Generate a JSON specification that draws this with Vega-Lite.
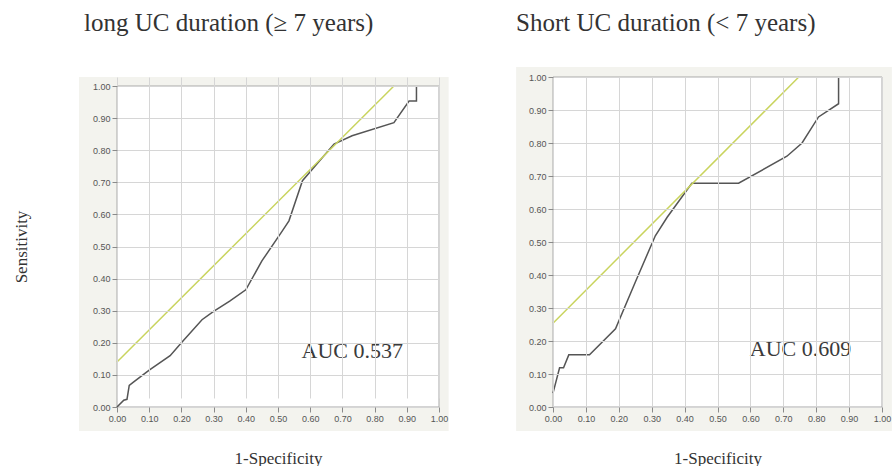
{
  "$schema": "https://vega.github.io/schema/vega-lite/v6.json",
  "padding": {"left": 12, "top": 11, "right": 0, "bottom": 0},
  "background": "white",
  "config": {
    "view": {"stroke": null},
    "axis": {
      "grid": true, "gridColor": "#d6d6d6", "domain": false,
      "tickColor": "#8a8a8a", "tickSize": 5,
      "labelFont": "Liberation Sans", "labelFontSize": 9, "labelColor": "#555555",
      "labelOverlap": false, "labelFlush": false,
      "titleFont": "Liberation Serif", "titleFontWeight": "normal", "titleFontSize": 17, "titleColor": "#333333"
    },
    "title": {"font": "Liberation Serif", "fontSize": 25, "fontWeight": "normal", "color": "#333333", "anchor": "start", "frame": "group"},
    "concat": {"spacing": 67}
  },
  "datasets": {
    "long": [
      {"i": 0, "fpr": 0, "tpr": 0, "series": "ROC"},
      {"i": 1, "fpr": 0.021, "tpr": 0.021, "series": "ROC"},
      {"i": 2, "fpr": 0.031, "tpr": 0.024, "series": "ROC"},
      {"i": 3, "fpr": 0.038, "tpr": 0.067, "series": "ROC"},
      {"i": 4, "fpr": 0.052, "tpr": 0.078, "series": "ROC"},
      {"i": 5, "fpr": 0.10, "tpr": 0.115, "series": "ROC"},
      {"i": 6, "fpr": 0.165, "tpr": 0.16, "series": "ROC"},
      {"i": 7, "fpr": 0.20, "tpr": 0.2, "series": "ROC"},
      {"i": 8, "fpr": 0.264, "tpr": 0.272, "series": "ROC"},
      {"i": 9, "fpr": 0.30, "tpr": 0.298, "series": "ROC"},
      {"i": 10, "fpr": 0.35, "tpr": 0.33, "series": "ROC"},
      {"i": 11, "fpr": 0.40, "tpr": 0.365, "series": "ROC"},
      {"i": 12, "fpr": 0.45, "tpr": 0.455, "series": "ROC"},
      {"i": 13, "fpr": 0.513, "tpr": 0.548, "series": "ROC"},
      {"i": 14, "fpr": 0.534, "tpr": 0.58, "series": "ROC"},
      {"i": 15, "fpr": 0.576, "tpr": 0.705, "series": "ROC"},
      {"i": 16, "fpr": 0.674, "tpr": 0.819, "series": "ROC"},
      {"i": 17, "fpr": 0.73, "tpr": 0.845, "series": "ROC"},
      {"i": 18, "fpr": 0.86, "tpr": 0.886, "series": "ROC"},
      {"i": 19, "fpr": 0.907, "tpr": 0.953, "series": "ROC"},
      {"i": 20, "fpr": 0.93, "tpr": 0.953, "series": "ROC"},
      {"i": 21, "fpr": 0.93, "tpr": 1.0, "series": "ROC"},
      {"i": 0, "fpr": 0, "tpr": 0.14, "series": "Ref"},
      {"i": 1, "fpr": 0.86, "tpr": 1.0, "series": "Ref"}
    ],
    "short": [
      {"i": 0, "fpr": 0, "tpr": 0.042, "series": "ROC"},
      {"i": 1, "fpr": 0.02, "tpr": 0.119, "series": "ROC"},
      {"i": 2, "fpr": 0.032, "tpr": 0.119, "series": "ROC"},
      {"i": 3, "fpr": 0.048, "tpr": 0.158, "series": "ROC"},
      {"i": 4, "fpr": 0.111, "tpr": 0.158, "series": "ROC"},
      {"i": 5, "fpr": 0.19, "tpr": 0.237, "series": "ROC"},
      {"i": 6, "fpr": 0.25, "tpr": 0.378, "series": "ROC"},
      {"i": 7, "fpr": 0.311, "tpr": 0.519, "series": "ROC"},
      {"i": 8, "fpr": 0.347, "tpr": 0.575, "series": "ROC"},
      {"i": 9, "fpr": 0.422, "tpr": 0.678, "series": "ROC"},
      {"i": 10, "fpr": 0.564, "tpr": 0.678, "series": "ROC"},
      {"i": 11, "fpr": 0.711, "tpr": 0.76, "series": "ROC"},
      {"i": 12, "fpr": 0.757, "tpr": 0.80, "series": "ROC"},
      {"i": 13, "fpr": 0.807, "tpr": 0.879, "series": "ROC"},
      {"i": 14, "fpr": 0.868, "tpr": 0.919, "series": "ROC"},
      {"i": 15, "fpr": 0.868, "tpr": 1.0, "series": "ROC"},
      {"i": 0, "fpr": 0, "tpr": 0.254, "series": "Ref"},
      {"i": 1, "fpr": 0.747, "tpr": 1.0, "series": "Ref"}
    ]
  },
  "hconcat": [
    {
      "width": 322, "height": 330,
      "title": {"text": "long UC duration (≥ 7 years)", "offset": 41, "dx": -33},
      "layer": [
        {
          "data": {"values": [{}]},
          "mark": {"type": "rect", "color": "#f3f3ee"},
          "encoding": {
            "x": {"datum": -0.118, "type": "quantitative", "scale": {"domain": [0, 1], "nice": false},
                  "axis": {"title": "1-Specificity", "format": ".2f", "values": [0, 0.1, 0.2, 0.3, 0.4, 0.5, 0.6, 0.7, 0.8, 0.9, 1.0], "titlePadding": 27, "zindex": 1}},
            "x2": {"datum": 1.03},
            "y": {"datum": -0.075, "type": "quantitative", "scale": {"domain": [0, 1], "nice": false, "range": [330, 9]},
                  "axis": {"title": "Sensitivity", "format": ".2f", "values": [0, 0.1, 0.2, 0.3, 0.4, 0.5, 0.6, 0.7, 0.8, 0.9, 1.0], "titlePadding": 62, "zindex": 1}},
            "y2": {"datum": 1.028}
          }
        },
        {
          "data": {"values": [{}]},
          "mark": {"type": "rect", "color": "white", "stroke": "#a9a9a9", "strokeWidth": 1},
          "encoding": {
            "x": {"datum": 0, "type": "quantitative", "scale": {"domain": [0, 1], "nice": false},
                  "axis": {"title": "1-Specificity", "format": ".2f", "values": [0, 0.1, 0.2, 0.3, 0.4, 0.5, 0.6, 0.7, 0.8, 0.9, 1.0], "titlePadding": 27, "zindex": 1}},
            "x2": {"datum": 1},
            "y": {"datum": 0, "type": "quantitative", "scale": {"domain": [0, 1], "nice": false, "range": [330, 9]},
                  "axis": {"title": "Sensitivity", "format": ".2f", "values": [0, 0.1, 0.2, 0.3, 0.4, 0.5, 0.6, 0.7, 0.8, 0.9, 1.0], "titlePadding": 62, "zindex": 1}},
            "y2": {"datum": 1}
          }
        },
        {
          "data": {"name": "long"},
          "mark": {"type": "line", "strokeWidth": 1.5},
          "encoding": {
            "x": {"field": "fpr", "type": "quantitative", "scale": {"domain": [0, 1], "nice": false},
                  "axis": {"title": "1-Specificity", "format": ".2f", "values": [0, 0.1, 0.2, 0.3, 0.4, 0.5, 0.6, 0.7, 0.8, 0.9, 1.0], "titlePadding": 27, "zindex": 1}},
            "y": {"field": "tpr", "type": "quantitative", "scale": {"domain": [0, 1], "nice": false, "range": [330, 9]},
                  "axis": {"title": "Sensitivity", "format": ".2f", "values": [0, 0.1, 0.2, 0.3, 0.4, 0.5, 0.6, 0.7, 0.8, 0.9, 1.0], "titlePadding": 62, "zindex": 1}},
            "detail": {"field": "series"},
            "order": {"field": "i", "type": "quantitative"},
            "color": {"field": "series", "type": "nominal", "scale": {"domain": ["ROC", "Ref"], "range": ["#555555", "#c9d45e"]}, "legend": null}
          }
        },
        {
          "data": {"values": [{}]},
          "mark": {"type": "text", "text": "AUC 0.537", "font": "Liberation Serif", "fontSize": 22, "align": "left", "baseline": "middle", "color": "#3a3a3a"},
          "encoding": {
            "x": {"datum": 0.573, "type": "quantitative", "scale": {"domain": [0, 1], "nice": false},
                  "axis": {"title": "1-Specificity", "format": ".2f", "values": [0, 0.1, 0.2, 0.3, 0.4, 0.5, 0.6, 0.7, 0.8, 0.9, 1.0], "titlePadding": 27, "zindex": 1}},
            "y": {"datum": 0.176, "type": "quantitative", "scale": {"domain": [0, 1], "nice": false, "range": [330, 9]},
                  "axis": {"title": "Sensitivity", "format": ".2f", "values": [0, 0.1, 0.2, 0.3, 0.4, 0.5, 0.6, 0.7, 0.8, 0.9, 1.0], "titlePadding": 62, "zindex": 1}}
          }
        }
      ]
    },
    {
      "width": 329, "height": 330,
      "title": {"text": "Short UC duration (< 7 years)", "offset": 31, "dx": -37},
      "layer": [
        {
          "data": {"values": [{}]},
          "mark": {"type": "rect", "color": "#f3f3ee"},
          "encoding": {
            "x": {"datum": -0.112, "type": "quantitative", "scale": {"domain": [0, 1], "nice": false},
                  "axis": {"title": "1-Specificity", "format": ".2f", "values": [0, 0.1, 0.2, 0.3, 0.4, 0.5, 0.6, 0.7, 0.8, 0.9, 1.0], "titlePadding": 27, "zindex": 1}},
            "x2": {"datum": 1.03},
            "y": {"datum": -0.073, "type": "quantitative", "scale": {"domain": [0, 1], "nice": false},
                  "axis": {"title": null, "format": ".2f", "values": [0, 0.1, 0.2, 0.3, 0.4, 0.5, 0.6, 0.7, 0.8, 0.9, 1.0], "zindex": 1}},
            "y2": {"datum": 1.03}
          }
        },
        {
          "data": {"values": [{}]},
          "mark": {"type": "rect", "color": "white", "stroke": "#a9a9a9", "strokeWidth": 1},
          "encoding": {
            "x": {"datum": 0, "type": "quantitative", "scale": {"domain": [0, 1], "nice": false},
                  "axis": {"title": "1-Specificity", "format": ".2f", "values": [0, 0.1, 0.2, 0.3, 0.4, 0.5, 0.6, 0.7, 0.8, 0.9, 1.0], "titlePadding": 27, "zindex": 1}},
            "x2": {"datum": 1},
            "y": {"datum": 0, "type": "quantitative", "scale": {"domain": [0, 1], "nice": false},
                  "axis": {"title": null, "format": ".2f", "values": [0, 0.1, 0.2, 0.3, 0.4, 0.5, 0.6, 0.7, 0.8, 0.9, 1.0], "zindex": 1}},
            "y2": {"datum": 1}
          }
        },
        {
          "data": {"name": "short"},
          "mark": {"type": "line", "strokeWidth": 1.5},
          "encoding": {
            "x": {"field": "fpr", "type": "quantitative", "scale": {"domain": [0, 1], "nice": false},
                  "axis": {"title": "1-Specificity", "format": ".2f", "values": [0, 0.1, 0.2, 0.3, 0.4, 0.5, 0.6, 0.7, 0.8, 0.9, 1.0], "titlePadding": 27, "zindex": 1}},
            "y": {"field": "tpr", "type": "quantitative", "scale": {"domain": [0, 1], "nice": false},
                  "axis": {"title": null, "format": ".2f", "values": [0, 0.1, 0.2, 0.3, 0.4, 0.5, 0.6, 0.7, 0.8, 0.9, 1.0], "zindex": 1}},
            "detail": {"field": "series"},
            "order": {"field": "i", "type": "quantitative"},
            "color": {"field": "series", "type": "nominal", "scale": {"domain": ["ROC", "Ref"], "range": ["#555555", "#c9d45e"]}, "legend": null}
          }
        },
        {
          "data": {"values": [{}]},
          "mark": {"type": "text", "text": "AUC 0.609", "font": "Liberation Serif", "fontSize": 22, "align": "left", "baseline": "middle", "color": "#3a3a3a"},
          "encoding": {
            "x": {"datum": 0.598, "type": "quantitative", "scale": {"domain": [0, 1], "nice": false},
                  "axis": {"title": "1-Specificity", "format": ".2f", "values": [0, 0.1, 0.2, 0.3, 0.4, 0.5, 0.6, 0.7, 0.8, 0.9, 1.0], "titlePadding": 27, "zindex": 1}},
            "y": {"datum": 0.176, "type": "quantitative", "scale": {"domain": [0, 1], "nice": false},
                  "axis": {"title": null, "format": ".2f", "values": [0, 0.1, 0.2, 0.3, 0.4, 0.5, 0.6, 0.7, 0.8, 0.9, 1.0], "zindex": 1}}
          }
        }
      ]
    }
  ]
}
